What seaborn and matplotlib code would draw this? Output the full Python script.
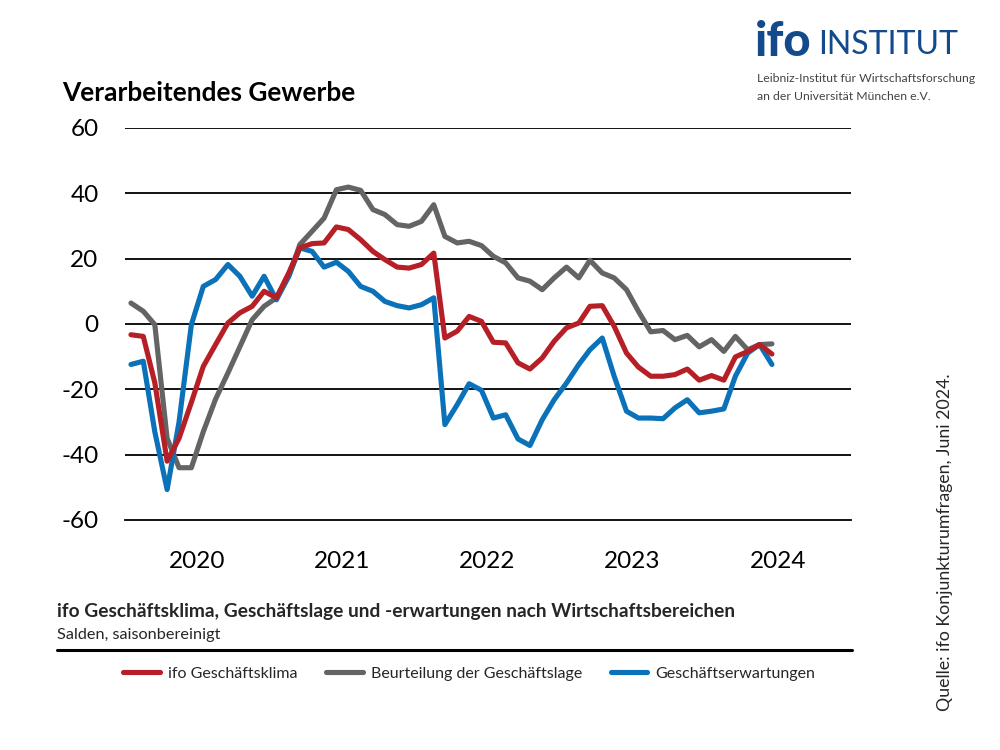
import numpy as np
import pandas as pd
import matplotlib
matplotlib.use("Agg")
import matplotlib.pyplot as plt
import matplotlib.dates as mdates
import seaborn as sns

# ---------------- data ----------------
months = pd.date_range("2020-01-01", periods=54, freq="MS") + pd.Timedelta(days=15)

klima = [-3.3, -3.8, -18, -42, -35, -24, -13, -6.3, 0.3, 3.4, 5.4, 10,
         8, 15.6, 23.3, 24.6, 24.8, 29.7, 28.9, 25.8, 22.2, 19.7, 17.4, 17.1,
         18.2, 21.7, -4.3, -2.2, 2.3, 0.8, -5.6, -5.8, -11.9, -13.8, -10.4, -5.3,
         -1.2, 0.3, 5.4, 5.6, -0.7, -8.9, -13.2, -16, -16, -15.5, -13.8, -17.2,
         -15.8, -17.2, -10.1, -8.4, -6.3, -9.2]
lage = [6.4, 3.9, -0.2, -35, -44, -44, -33, -23, -15, -7, 1.3, 5.4,
        8, 14.6, 24.3, 28.4, 32.4, 41.1, 41.9, 40.9, 35, 33.5, 30.4, 29.9,
        31.4, 36.5, 26.8, 24.8, 25.3, 24, 20.7, 18.7, 14.1, 13.1, 10.5, 14.1,
        17.4, 14.1, 19.5, 15.6, 14.1, 10.5, 3.9, -2.4, -2, -4.8, -3.5, -7,
        -4.8, -8.4, -3.8, -7.9, -6.3, -6.1]
erwartungen = [-12.4, -11.4, -33, -50.7, -30, -0.2, 11.5, 13.6, 18.2, 14.6, 8.5, 14.6,
               7.4, 14.6, 23.3, 22.2, 17.4, 18.9, 16.1, 11.5, 10, 6.9, 5.6, 4.9,
               5.9, 8, -30.8, -24.7, -18.3, -20.3, -28.8, -27.8, -35.2, -37.2, -29.3, -23.2,
               -18.1, -12.4, -7.9, -4.3, -16, -26.7, -28.8, -28.8, -29, -25.7, -23.2, -27.2,
               -26.7, -26, -16, -8.9, -6.3, -12.4]

series_names = ["ifo Geschäftsklima", "Beurteilung der Geschäftslage", "Geschäftserwartungen"]
series_colors = ["#b71f27", "#646464", "#0b72b9"]
years = ["2020", "2021", "2022", "2023", "2024"]
y_ticks = [-60, -40, -20, 0, 20, 40, 60]

df = pd.concat([
    pd.DataFrame({"Monat": months, "Wert": klima, "Reihe": series_names[0]}),
    pd.DataFrame({"Monat": months, "Wert": lage, "Reihe": series_names[1]}),
    pd.DataFrame({"Monat": months, "Wert": erwartungen, "Reihe": series_names[2]}),
])

# ---------------- style ----------------
sns.set_style("white")
FONT = ["Lato", "DejaVu Sans"]
plt.rcParams["font.family"] = FONT

fig = plt.figure(figsize=(10, 7.5), dpi=100)
ax = fig.add_axes([0.125, 0.3067, 0.726, 0.5227])

order = [series_names[1], series_names[2], series_names[0]]
pal = dict(zip(series_names, series_colors))
sns.lineplot(data=df, x="Monat", y="Wert", hue="Reihe", hue_order=order,
             palette=pal, linewidth=3.7, ax=ax, legend=False, zorder=3)

ax.set_xlim(pd.Timestamp("2020-01-01"), pd.Timestamp("2025-01-01"))
ax.set_ylim(-60, 60)
ax.set_yticks(y_ticks)
ax.set_yticklabels([str(v) for v in y_ticks])
for v in y_ticks[1:]:
    ax.axhline(v, color="black", lw=1.3, zorder=1)

ax.xaxis.set_major_locator(mdates.YearLocator())
ax.xaxis.set_major_formatter(matplotlib.ticker.NullFormatter())
ax.xaxis.set_minor_locator(mdates.MonthLocator(bymonth=7, bymonthday=1))
ax.xaxis.set_minor_formatter(mdates.DateFormatter("%Y"))
ax.tick_params(axis="x", which="major", length=8, width=1.3, direction="out", color="black")
ax.tick_params(axis="x", which="minor", length=0, pad=22, labelsize=17.5, labelcolor="black")
ax.tick_params(axis="y", length=0, pad=19, labelsize=17.5, labelcolor="black")

for s in ["top", "right", "left"]:
    ax.spines[s].set_visible(False)
ax.spines["bottom"].set_color("black")
ax.spines["bottom"].set_linewidth(1.3)
ax.set_xlabel("")
ax.set_ylabel("")

def px(x, y):
    return x / 1000, 1 - y / 750

# title
fig.text(*px(62, 93), "Verarbeitendes Gewerbe", fontsize=18.9, fontweight="bold",
         va="center", ha="left", color="black")

# bottom captions
fig.text(*px(57, 612), "ifo Geschäftsklima, Geschäftslage und -erwartungen nach Wirtschaftsbereichen",
         fontsize=13.8, fontweight="bold", va="center", ha="left")
fig.text(*px(57, 635), "Salden, saisonbereinigt", fontsize=11.7, va="center", ha="left")
fig.add_artist(plt.Line2D([0.057, 0.852], [1 - 650 / 750] * 2, color="black", lw=2.2))

# legend
handles = [plt.Line2D([], [], color=c, lw=3.7) for c in series_colors]
fig.legend(handles, series_names, loc="center left", bbox_to_anchor=(0.123, 1 - 674 / 750),
           ncol=3, frameon=False, fontsize=11.5, handlelength=2.3, handletextpad=0.5,
           columnspacing=1.8, borderaxespad=0, borderpad=0)

# source (rotated)
fig.text(*px(945, 542), "Quelle: ifo Konjunkturumfragen, Juni 2024.", rotation=90,
         fontsize=12.8, va="center", ha="center")

# logo
fig.text(*px(755, 42), "ifo", fontsize=34, fontweight="black", color="#124a8c",
         va="center", ha="left")
fig.text(*px(818, 45), "INSTITUT", fontsize=23, fontweight="normal", color="#124a8c",
         va="center", ha="left")
fig.text(*px(757, 79), "Leibniz-Institut für Wirtschaftsforschung", fontsize=8.8,
         color="#444444", va="center", ha="left")
fig.text(*px(757, 97), "an der Universität München e.V.", fontsize=8.8,
         color="#444444", va="center", ha="left")

fig.savefig("out.png", dpi=100)
